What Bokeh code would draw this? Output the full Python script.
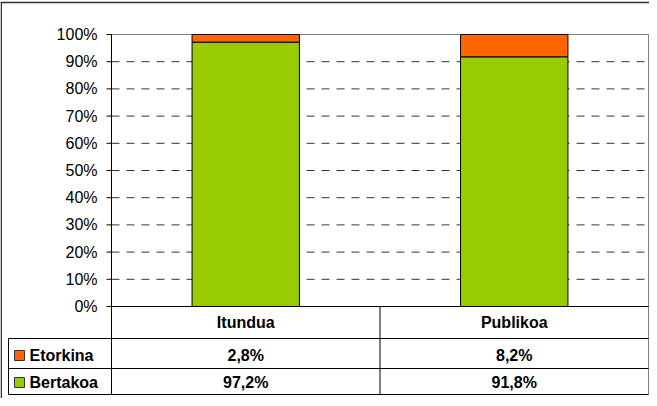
from bokeh.plotting import figure
from bokeh.models import Range1d, ColumnDataSource
from bokeh.core.properties import value
from bokeh.embed import file_html
from bokeh.resources import INLINE

# ---- data ----
categories = ["Itundua", "Publikoa"]
series_names = ["Etorkina", "Bertakoa"]
etorkina = [2.8, 8.2]
bertakoa = [97.2, 91.8]
etorkina_labels = ["2,8%", "8,2%"]
bertakoa_labels = ["97,2%", "91,8%"]
series_colors = ["#FF6600", "#99CC00"]
y_ticks = [0, 10, 20, 30, 40, 50, 60, 70, 80, 90, 100]
y_tick_labels = ["0%", "10%", "20%", "30%", "40%", "50%", "60%", "70%", "80%", "90%", "100%"]

# ---- layout (page pixel geometry -> data units) ----
W, H = 649, 398
OFF = 8
PLOT_L, PLOT_R = 119, 656     # page x of category axis span
PLOT_T, PLOT_B = 42, 314      # page y of 100% and 0%
ncat = len(categories)
xs = (PLOT_R - PLOT_L) / ncat
ys = (PLOT_B - PLOT_T) / 100.0

def X(px):
    return (px - PLOT_L) / xs

def Y(py):
    return (PLOT_B - py) / ys

p = figure(width=W, height=H, output_backend="svg", toolbar_location=None,
           x_axis_location=None, y_axis_location=None,
           x_range=Range1d(X(OFF), X(OFF + W)), y_range=Range1d(Y(OFF + H), Y(OFF)),
           min_border=0, min_border_left=0, min_border_right=0,
           min_border_top=0, min_border_bottom=0)
p.outline_line_color = None
p.grid.visible = False
p.background_fill_color = "white"
p.border_fill_color = "white"

FONT = value("Liberation Sans")
xc = [i + 0.5 for i in range(ncat)]

# outer chart border (top & left)
p.segment(x0=[X(OFF), X(OFF + 0.75)], y0=[Y(10), Y(10)], x1=[X(OFF + W), X(OFF + 0.75)], y1=[Y(10), Y(OFF + H)],
          line_color="#333333", line_width=1.5)

# plot area border (gray)
p.segment(x0=[0, ncat], y0=[100, 100], x1=[ncat, ncat], y1=[100, Y(402)],
          line_color="#808080", line_width=1)

# dashed gridlines
grid_y = [t for t in y_ticks if 0 < t < 100]
p.segment(x0=[0] * len(grid_y), y0=grid_y, x1=[ncat] * len(grid_y), y1=grid_y,
          line_color="#333333", line_width=1, line_dash="8 7")

# stacked bars
src = ColumnDataSource(dict(x=xc, bert=bertakoa, etor_top=[b + e for b, e in zip(bertakoa, etorkina)]))
p.vbar(x="x", bottom=0, top="bert", width=0.4, source=src,
       fill_color=series_colors[1], line_color="#000000", line_width=1)
p.vbar(x="x", bottom="bert", top="etor_top", width=0.4, source=src,
       fill_color=series_colors[0], line_color="#000000", line_width=1)

# value axis line, ticks, labels
p.segment(x0=[0], y0=[100], x1=[0], y1=[Y(402)], line_color="black", line_width=1)
p.segment(x0=[X(114)] * len(y_ticks), y0=y_ticks, x1=[0] * len(y_ticks), y1=y_ticks,
          line_color="black", line_width=1)
p.text(x=[X(105)] * len(y_ticks), y=y_ticks, text=y_tick_labels,
       text_font=FONT, text_font_size="16px", text_color="black",
       text_align="right", text_baseline="middle")

# category axis line
p.segment(x0=[0], y0=[0], x1=[ncat], y1=[0], line_color="black", line_width=1)

# data table
row_lines = [346, 376, 402]
p.segment(x0=[X(16)] * 3, y0=[Y(r) for r in row_lines], x1=[ncat] * 3, y1=[Y(r) for r in row_lines],
          line_color="black", line_width=1)
p.segment(x0=[X(16)], y0=[Y(346)], x1=[X(16)], y1=[Y(402)], line_color="black", line_width=1)
p.segment(x0=[i for i in range(1, ncat)], y0=[0] * (ncat - 1),
          x1=[i for i in range(1, ncat)], y1=[Y(402)] * (ncat - 1), line_color="black", line_width=1)

# header labels (categories)
p.text(x=xc, y=[Y(330)] * ncat, text=categories, text_font=FONT, text_font_size="16px",
       text_font_style="bold", text_color="black", text_align="center", text_baseline="middle")

row_y = [Y(363), Y(390)]
# legend keys + series names
p.rect(x=[X(27), X(27)], y=row_y, width=10, height=10, width_units="screen", height_units="screen",
       fill_color=series_colors, line_color="#333333", line_width=1)
p.text(x=[X(37), X(37)], y=row_y, text=series_names, text_font=FONT, text_font_size="16px",
       text_font_style="bold", text_color="black", text_align="left", text_baseline="middle")

# values
p.text(x=xc, y=[row_y[0]] * ncat, text=etorkina_labels, text_font=FONT, text_font_size="16px",
       text_font_style="bold", text_color="black", text_align="center", text_baseline="middle")
p.text(x=xc, y=[row_y[1]] * ncat, text=bertakoa_labels, text_font=FONT, text_font_size="16px",
       text_font_style="bold", text_color="black", text_align="center", text_baseline="middle")

open("out.html", "w").write(file_html(p, INLINE))
